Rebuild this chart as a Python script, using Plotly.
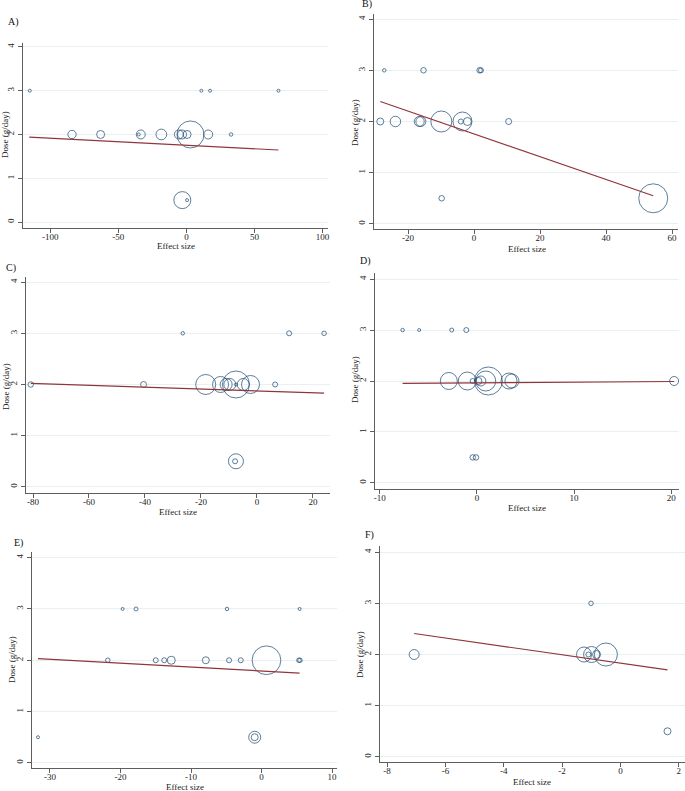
import plotly.graph_objects as go

# ---- data (effect size, dose g/day, relative study weight) ----
a_x = [-115, 11, 17.4, 67.6,
       -84, -63, -35, -33.5, -18.4, -5.5, -3.2, 0.5, 3, 16, 32.8,
       -3, 0.5]
a_dose = [3, 3, 3, 3,
          2, 2, 2, 2, 2, 2, 2, 2, 2, 2, 2,
          0.5, 0.5]
a_w = [0.25, 0.16, 0.25, 0.36,
       2.76, 2.56, 0.25, 3.24, 4.58, 3.24, 3.24, 2.56, 29.2, 3.24, 0.49,
       11.6, 0.36]
a_fit_x = [-115.4, 67.6]
a_fit_y = [1.94, 1.645]

b_x = [-27.2, -15.3, 1.7, 2.1,
       -28.4, -23.8, -16.6, -16.1, -9.9, -4.0, -3.5, -2.0, 10.5,
       -9.8, 54.3]
b_dose = [3, 3, 3, 3,
          2, 2, 2, 2, 2, 2, 2, 2, 2,
          0.5, 0.5]
b_w = [0.49, 1.21, 1.21, 1.0,
       1.96, 4.41, 4.0, 4.0, 17.6, 1.0, 14.4, 2.56, 1.44,
       1.21, 33.6]
b_fit_x = [-28.4, 54.3]
b_fit_y = [2.39, 0.55]

c_x = [-26.5, 11.5, 24,
       -80.8, -40.5, -18.3, -13, -11, -9.7, -7.5, -7.5, -4.9, -2.3, 6.5,
       -7.5, -7.8]
c_dose = [3, 3, 3,
          2, 2, 2, 2, 2, 2, 2, 2, 2, 2, 2,
          0.5, 0.5]
c_w = [0.49, 1.0, 0.81,
       1.21, 1.44, 16, 10.24, 5.76, 5.76, 29.2, 0.36, 5.76, 12.96, 1.0,
       9.0, 1.0]
c_fit_x = [-80.8, 24]
c_fit_y = [2.02, 1.83]

d_x = [-7.66, -5.95, -2.6, -1.1,
       -2.9, -1.0, -0.45, 0.15, 0.4, 0.9, 1.17, 3.3, 3.6, 20.3,
       -0.44, -0.1]
d_dose = [3, 3, 3, 3,
          2, 2, 2, 2, 2, 2, 2, 2, 2, 2,
          0.5, 0.5]
d_w = [0.49, 0.25, 0.64, 1.0,
       11.56, 12.96, 1.0, 1.96, 4.0, 16, 31.4, 10.24, 7.84, 3.24,
       1.21, 1.21]
d_fit_x = [-7.66, 20.3]
d_fit_y = [1.955, 1.99]

e_x = [-19.7, -17.8, -4.9, 5.4,
       -21.8, -15.0, -13.8, -12.8, -7.9, -4.6, -2.95, 0.7, 5.3, 5.45,
       -31.7, -0.97, -0.97]
e_dose = [3, 3, 3, 3,
          2, 2, 2, 2, 2, 2, 2, 2, 2, 2,
          0.5, 0.5, 0.5]
e_w = [0.25, 0.64, 0.49, 0.36,
       0.81, 1.0, 1.0, 2.56, 1.96, 1.0, 1.0, 33.0, 0.81, 0.81,
       0.09, 5.76, 1.96]
e_fit_x = [-31.7, 5.4]
e_fit_y = [2.03, 1.75]

f_x = [-1.01,
       -7.07, -1.25, -1.1, -0.99, -0.82, -0.5,
       1.61]
f_dose = [3,
          2, 2, 2, 2, 2, 2,
          0.5]
f_w = [0.81,
       4.0, 9.0, 1.0, 10.24, 2.56, 21.2,
       1.96]
f_fit_x = [-7.07, 1.61]
f_fit_y = [2.41, 1.70]

dose_ticks = [0, 1, 2, 3, 4]
x_ticks = {
    'A': [-100, -50, 0, 50, 100],
    'B': [-20, 0, 20, 40, 60],
    'C': [-80, -60, -40, -20, 0, 20],
    'D': [-10, 0, 10, 20],
    'E': [-30, -20, -10, 0, 10],
    'F': [-8, -6, -4, -2, 0, 2],
}

W, H = 685, 791
NAVY = '#1a476f'
MAROON = '#90353b'
AXIS = '#5e5e5e'
GRID = '#e8f0f2'
FONT = 'Liberation Serif'

# panel: data, plot box in px (left, top, right, bottom), axis ranges, label/title positions
panels = [
    ('A', a_x, a_dose, a_w, a_fit_x, a_fit_y, (23, 43, 328, 228), [-120, 104], [-0.137, 4.09],
     (13, 22), (5, 135), (176, 246)),
    ('B', b_x, b_dose, b_w, b_fit_x, b_fit_y, (374, 14, 678, 229), [-30.3, 61.8], [-0.1, 4.1],
     (367, 4), (355, 123), (527, 249)),
    ('C', c_x, c_dose, c_w, c_fit_x, c_fit_y, (26, 277, 330, 493), [-82.5, 26.1], [-0.12, 4.1],
     (11, 268), (6, 387), (178, 512)),
    ('D', d_x, d_dose, d_w, d_fit_x, d_fit_y, (375, 273, 679, 489), [-10.5, 20.8], [-0.12, 4.12],
     (366, 261), (355, 380), (527, 508)),
    ('E', e_x, e_dose, e_w, e_fit_x, e_fit_y, (32, 552, 337, 768), [-32.55, 10.7], [-0.1, 4.11],
     (18, 543), (12, 660), (185, 787)),
    ('F', f_x, f_dose, f_w, f_fit_x, f_fit_y, (380, 546, 685, 762), [-8.24, 2.21], [-0.1, 4.12],
     (369, 535), (360, 655), (532, 782)),
]

fig = go.Figure()
annotations = []
layout = {}

for i, (lab, xs, ys, ws, fx, fy, box, xr, yr, lab_pos, ytitle_pos, xtitle_pos) in enumerate(panels):
    n = '' if i == 0 else str(i + 1)
    xa, ya = 'x' + n, 'y' + n
    left, top, right, bottom = box

    fig.add_trace(go.Scatter(
        x=xs, y=ys, xaxis=xa, yaxis=ya, mode='markers', showlegend=False, hoverinfo='x+y',
        marker=dict(symbol='circle-open', size=ws, sizemode='area', sizeref=0.08, sizemin=1.5,
                    color=NAVY, line=dict(width=1, color=NAVY)),
    ))
    fig.add_trace(go.Scatter(
        x=fx, y=fy, xaxis=xa, yaxis=ya, mode='lines', showlegend=False,
        line=dict(color=MAROON, width=1.2),
    ))

    ticks = x_ticks[lab]
    layout['xaxis' + n] = dict(
        domain=[left / W, right / W], anchor=ya, range=xr, automargin=False,
        tickvals=ticks, ticktext=[str(t) for t in ticks], ticklabelstandoff=-4,
        showgrid=False, zeroline=False, showline=True, linecolor=AXIS, linewidth=1,
        ticks='outside', ticklen=4, tickcolor=AXIS, tickwidth=1,
        tickfont=dict(family=FONT, size=9, color='#222'),
    )
    layout['yaxis' + n] = dict(
        domain=[1 - bottom / H, 1 - top / H], anchor=xa, range=yr, automargin=False,
        tickvals=dose_ticks, ticktext=[str(t) for t in dose_ticks], tickangle=-90,
        showgrid=True, gridcolor=GRID, gridwidth=1, zeroline=False,
        showline=True, linecolor=AXIS, linewidth=1,
        ticks='outside', ticklen=4, tickcolor=AXIS, tickwidth=1,
        tickfont=dict(family=FONT, size=9, color='#222'),
    )

    common = dict(xref='paper', yref='paper', showarrow=False, xanchor='center', yanchor='middle')
    annotations.append(dict(text=lab + ')', x=lab_pos[0] / W, y=1 - lab_pos[1] / H,
                            font=dict(family=FONT, size=10, color='#111'), **common))
    annotations.append(dict(text='Dose (g/day)', x=ytitle_pos[0] / W, y=1 - ytitle_pos[1] / H,
                            textangle=-90, font=dict(family=FONT, size=9, color='#222'), **common))
    annotations.append(dict(text='Effect size', x=xtitle_pos[0] / W, y=1 - xtitle_pos[1] / H,
                            font=dict(family=FONT, size=9, color='#222'), **common))

fig.update_layout(
    width=W, height=H,
    margin=dict(l=0, r=0, t=0, b=0),
    paper_bgcolor='white', plot_bgcolor='white',
    annotations=annotations,
    **layout,
)

# the page body has a default 8px margin; drop it so the figure fills the window
fig.write_html("out.html", config={'displayModeBar': False},
               post_script="document.body.style.margin='0px';")
